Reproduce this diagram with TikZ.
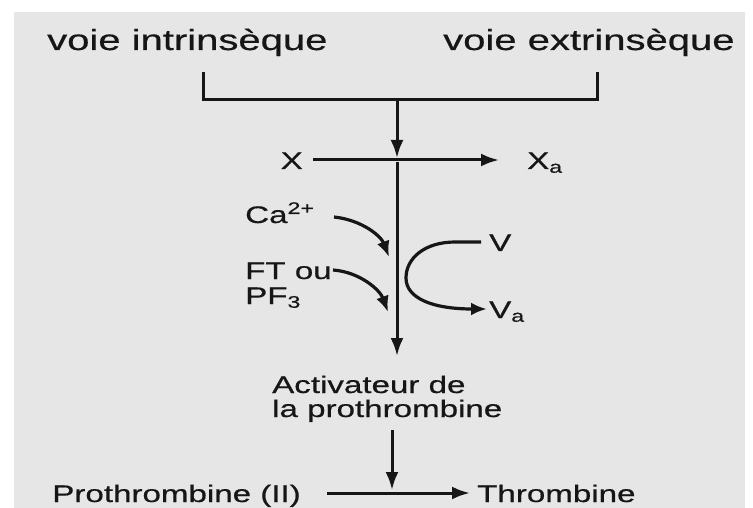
\documentclass[tikz,border=0pt]{standalone}
\usepackage{fontspec}
\setmainfont{Liberation Sans}[FakeBold=0.5,AutoFakeBold=0.5]
\newfontfamily\heavyfont{Liberation Sans}[FakeBold=0.5]
\usetikzlibrary{arrows.meta}
\newcommand\hstretch[1]{\scalebox{1.38}[1]{#1}}
\definecolor{bggray}{HTML}{E6E6E6}
\definecolor{ink}{HTML}{161616}
\tikzset{
  bigtxt/.style={inner sep=0pt, text=ink, font=\heavyfont\fontsize{29}{32}\selectfont},
  smalltxt/.style={inner sep=0pt, text=ink, font=\heavyfont\fontsize{24}{27}\selectfont},
  wire/.style={draw=ink, line width=3pt},
  arr/.style={draw=ink, line width=3pt, -{Latex[length=18pt,width=13pt]}},
  carr/.style={draw=ink, line width=3.2pt, -{Latex[length=16pt,width=13pt]}}
}
\begin{document}
\begin{tikzpicture}[x=1pt,y=-1pt]
\useasboundingbox (0,0) rectangle (753,508);
\fill[white] (0,0) rectangle (753,508);
\fill[bggray] (14,12) rectangle (745,508);

% top labels
\node[bigtxt, anchor=base west] (intr) at (47,50) {\hstretch{voie intrinsèque}};
\node[bigtxt, anchor=base west] (extr) at (443,50) {\hstretch{voie extrinsèque}};

% bracket
\coordinate (bl) at (203,72);
\coordinate (bbl) at (203,100);
\coordinate (bbr) at (597,100);
\coordinate (br) at (597,72);
\coordinate (bm) at (397,100);
\draw[wire, line join=miter] (bl) -- (bbl) -- (bbr) -- (br);

% X -> Xa
\node[smalltxt, anchor=base east] (X) at (303,169) {\hstretch{X}};
\node[smalltxt, anchor=base west] (Xa) at (527,169) {\hstretch{X\textsubscript{a}}};
\coordinate (xs) at (313,160);
\coordinate (xe) at (499,160);
\coordinate (xm) at (397,158);
\draw[arr] (bm) -- (xm);
\draw[arr] (xs) -- (xe);

% main vertical
\coordinate (vtop) at (397,162);
\coordinate (vbot) at (397,356);
\draw[arr] (vtop) -- (vbot);

% cofactors
\node[smalltxt, anchor=base west] (ca) at (245,223) {\hstretch{Ca\textsuperscript{2+}}};
\node[smalltxt, anchor=base west] (ft) at (245,279) {\hstretch{FT ou}};
\node[smalltxt, anchor=base west] (pf) at (245,304) {\hstretch{PF\textsubscript{3}}};
\coordinate (cas) at (334,217);
\coordinate (cae) at (389,257);
\draw[carr] (cas) .. controls (362,220) and (381,236) .. (cae);
\coordinate (fts) at (333,270);
\coordinate (fte) at (388,312);
\draw[carr] (fts) .. controls (360,272) and (380,290) .. (fte);

% V -> Va
\node[smalltxt, anchor=base west] (V) at (489,251) {\hstretch{V}};
\node[smalltxt, anchor=base west] (Va) at (489,318) {\hstretch{V\textsubscript{a}}};
\coordinate (vs) at (481,242);
\coordinate (vl) at (406,278);
\coordinate (ve) at (487,309);
\draw[carr] (vs) -- (455,242) .. controls (425,242) and (406,258) .. (vl)
  .. controls (406,298) and (432,309) .. (ve);

% activator
\node[smalltxt, anchor=base west] (act1) at (272,393) {\hstretch{Activateur de}};
\node[smalltxt, anchor=base west] (act2) at (272,417) {\hstretch{la prothrombine}};
\coordinate (as) at (392,430);
\coordinate (ae) at (392,490);
\draw[arr] (as) -- (ae);

% bottom reaction
\node[smalltxt, anchor=base east] (pro) at (301,502) {\hstretch{Prothrombine (II)}};
\node[smalltxt, anchor=base west] (thr) at (477,502) {\hstretch{Thrombine}};
\coordinate (ps) at (327,493);
\coordinate (pe) at (470,493);
\draw[arr] (ps) -- (pe);
\end{tikzpicture}
\end{document}
